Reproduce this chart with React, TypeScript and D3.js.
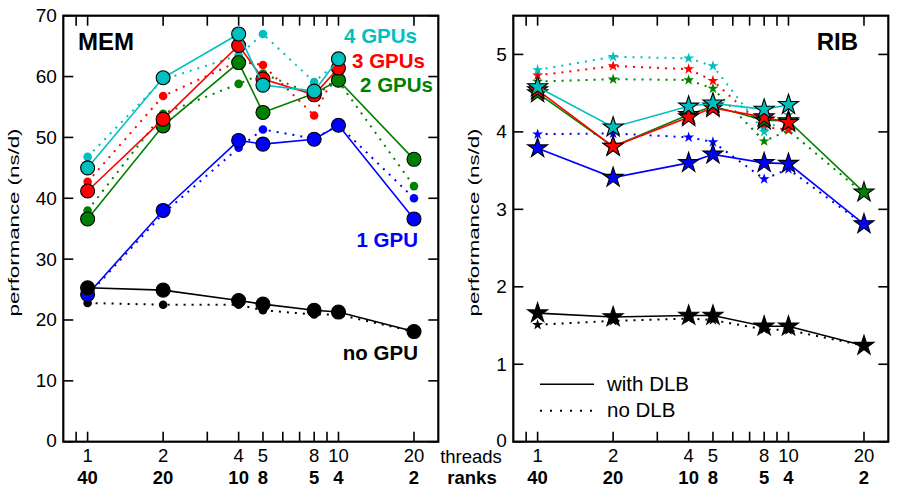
import { useEffect, useRef } from 'react'
import { select, scaleLog, scaleLinear, line, symbol, symbolStar, range } from 'd3'

// x positions: OpenMP threads per rank, and the matching rank counts
const threads = [1, 2, 4, 5, 8, 10, 20]
const ranks = [40, 20, 10, 8, 5, 4, 2]
const minorThreads = [0.9, 3, 6, 7, 9]

// series order: no GPU, 1 GPU, 2 GPUs, 3 GPUs, 4 GPUs
const seriesNames = ['no GPU', '1 GPU', '2 GPUs', '3 GPUs', '4 GPUs']
const seriesColors = ['#000000', '#0000ff', '#008000', '#ff0000', '#00bfbf']

// MEM benchmark (ns/d), with DLB
const memDlbNoGpu = [25.3, 24.9, 23.2, 22.6, 21.6, 21.3, 18.1]
const memDlb1Gpu = [24.2, 38.0, 49.5, 48.9, 49.7, 52.0, 36.6]
const memDlb2Gpu = [36.6, 51.9, 62.3, 54.1, 57.2, 59.4, 46.4]
const memDlb3Gpu = [41.2, 53.0, 65.1, 59.6, 57.0, 61.4]
const memDlb4Gpu = [45.0, 59.8, 67.0, 58.6, 57.6, 62.9]

// MEM benchmark (ns/d), no DLB
const memNoDlbNoGpu = [22.8, 22.5, 22.5, 21.6, 20.9, 20.9, 18.1]
const memNoDlb1Gpu = [24.0, 37.5, 48.3, 51.3, 49.8, 52.0, 40.0]
const memNoDlb2Gpu = [38.0, 53.9, 58.8, 60.5, 57.0, 59.2, 42.0]
const memNoDlb3Gpu = [42.7, 56.8, 62.5, 61.9, 53.6, 61.5]
const memNoDlb4Gpu = [46.8, 59.5, 63.5, 67.0, 59.1, 62.5]

// RIB benchmark (ns/d), with DLB
const ribDlbNoGpu = [1.66, 1.61, 1.63, 1.63, 1.49, 1.49, 1.24]
const ribDlb1Gpu = [3.79, 3.41, 3.6, 3.71, 3.6, 3.59, 2.81]
const ribDlb2Gpu = [4.5, 3.81, 4.22, 4.33, 4.15, 4.14, 3.22]
const ribDlb3Gpu = [4.54, 3.81, 4.19, 4.31, 4.19, 4.12]
const ribDlb4Gpu = [4.58, 4.06, 4.33, 4.37, 4.29, 4.35]

// RIB benchmark (ns/d), no DLB
const ribNoDlbNoGpu = [1.51, 1.56, 1.59, 1.57, 1.45, 1.44, 1.24]
const ribNoDlb1Gpu = [3.97, 3.98, 3.93, 3.87, 3.39, 3.52, 2.8]
const ribNoDlb2Gpu = [4.65, 4.68, 4.67, 4.56, 3.88, 4.02, 3.2]
const ribNoDlb3Gpu = [4.73, 4.85, 4.81, 4.66, 4.06, 4.03]
const ribNoDlb4Gpu = [4.8, 4.97, 4.95, 4.85, 4.0, 4.22]

const memTicks = range(0, 71, 10)
const ribTicks = range(0, 6, 1)

const FONT = '"Liberation Sans", Arial, Helvetica, sans-serif'

interface PanelOpts {
  left: number
  yMax: number
  yTicks: number[]
  dlb: number[][]
  noDlb: number[][]
  marker: 'circle' | 'star'
  title: string
  titleX: number
  titleAnchor: string
}

const App = () => {
  const svgRef = useRef(null)

  useEffect(() => {
    const svg = select(svgRef.current)
    svg.selectAll('*').remove()

    const top = 15.7
    const bottom = 441.7
    const plotW = 375

    const drawPanel = (o: PanelOpts) => {
      const x = scaleLog().domain([0.8, 25]).range([o.left, o.left + plotW])
      const y = scaleLinear().domain([0, o.yMax]).range([bottom, top])
      const g = svg.append('g')

      // ticks (inward on all four sides)
      const allX = threads.concat(minorThreads)
      allX.forEach((t) => {
        g.append('line')
          .attr('x1', x(t)).attr('x2', x(t))
          .attr('y1', bottom).attr('y2', bottom - 10)
          .attr('stroke', '#000').attr('stroke-width', 1.6)
        g.append('line')
          .attr('x1', x(t)).attr('x2', x(t))
          .attr('y1', top).attr('y2', top + 10)
          .attr('stroke', '#000').attr('stroke-width', 1.6)
      })
      o.yTicks.forEach((v) => {
        g.append('line')
          .attr('x1', o.left).attr('x2', o.left + 10)
          .attr('y1', y(v)).attr('y2', y(v))
          .attr('stroke', '#000').attr('stroke-width', 1.6)
        g.append('line')
          .attr('x1', o.left + plotW).attr('x2', o.left + plotW - 10)
          .attr('y1', y(v)).attr('y2', y(v))
          .attr('stroke', '#000').attr('stroke-width', 1.6)
        g.append('text')
          .attr('x', o.left - 6.5)
          .attr('y', y(v) + (v === 0 ? 5 : 6.5))
          .attr('text-anchor', 'end')
          .attr('font-family', FONT)
          .attr('font-size', 19)
          .text(v)
      })

      // tick labels: threads and ranks
      threads.forEach((t, i) => {
        g.append('text')
          .attr('x', x(t)).attr('y', 461.7)
          .attr('text-anchor', 'middle')
          .attr('font-family', FONT).attr('font-size', 18.5)
          .text(t)
        g.append('text')
          .attr('x', x(t)).attr('y', 484)
          .attr('text-anchor', 'middle')
          .attr('font-family', FONT).attr('font-size', 18.5)
          .attr('font-weight', 'bold')
          .text(ranks[i])
      })

      const lineGen = line<number>()
        .x((_, i) => x(threads[i]))
        .y((d) => y(d))

      const drawSeries = (vals: number[], color: string, dotted: boolean) => {
        g.append('path')
          .attr('d', lineGen(vals))
          .attr('fill', 'none')
          .attr('stroke', color)
          .attr('stroke-width', dotted ? 2 : 1.6)
          .attr('stroke-dasharray', dotted ? '2 6' : null)
        vals.forEach((v, i) => {
          const cx = x(threads[i])
          const cy = y(v)
          if (o.marker === 'circle') {
            g.append('circle')
              .attr('cx', cx).attr('cy', cy)
              .attr('r', dotted ? 4.3 : 7)
              .attr('fill', color)
              .attr('stroke', dotted ? 'none' : '#000')
              .attr('stroke-width', 1.1)
          } else {
            const R = dotted ? 5.8 : 10.5
            g.append('path')
              .attr('d', symbol(symbolStar, (R * R) / 0.8908130915292852)())
              .attr('transform', `translate(${cx},${cy})`)
              .attr('fill', color)
              .attr('stroke', dotted ? 'none' : '#000')
              .attr('stroke-width', 1.1)
          }
        })
      }

      const order = [1, 2, 3, 4, 0]
      order.forEach((k) => drawSeries(o.noDlb[k], seriesColors[k], true))
      order.forEach((k) => drawSeries(o.dlb[k], seriesColors[k], false))

      // frame
      g.append('rect')
        .attr('x', o.left).attr('y', top)
        .attr('width', plotW).attr('height', bottom - top)
        .attr('fill', 'none')
        .attr('stroke', '#000').attr('stroke-width', 2.2)

      g.append('text')
        .attr('x', o.titleX).attr('y', 50)
        .attr('text-anchor', o.titleAnchor)
        .attr('font-family', FONT).attr('font-size', 24)
        .attr('font-weight', 'bold')
        .text(o.title)
    }

    drawPanel({
      left: 63.3,
      yMax: 70,
      yTicks: memTicks,
      dlb: [memDlbNoGpu, memDlb1Gpu, memDlb2Gpu, memDlb3Gpu, memDlb4Gpu],
      noDlb: [memNoDlbNoGpu, memNoDlb1Gpu, memNoDlb2Gpu, memNoDlb3Gpu, memNoDlb4Gpu],
      marker: 'circle',
      title: 'MEM',
      titleX: 78,
      titleAnchor: 'start',
    })
    drawPanel({
      left: 513.3,
      yMax: 5.5,
      yTicks: ribTicks,
      dlb: [ribDlbNoGpu, ribDlb1Gpu, ribDlb2Gpu, ribDlb3Gpu, ribDlb4Gpu],
      noDlb: [ribNoDlbNoGpu, ribNoDlb1Gpu, ribNoDlb2Gpu, ribNoDlb3Gpu, ribNoDlb4Gpu],
      marker: 'star',
      title: 'RIB',
      titleX: 858,
      titleAnchor: 'end',
    })

    // GPU count labels in the MEM panel
    const gpuLabelPos = [
      [418, 360],
      [418, 246.7],
      [433, 91.7],
      [425, 67.7],
      [417, 42.7],
    ]
    seriesNames.forEach((name, k) => {
      svg.append('text')
        .attr('x', gpuLabelPos[k][0]).attr('y', gpuLabelPos[k][1])
        .attr('text-anchor', 'end')
        .attr('font-family', FONT).attr('font-size', 20.5)
        .attr('font-weight', 'bold')
        .attr('fill', seriesColors[k])
        .text(name)
    })

    // axis captions between panels
    svg.append('text')
      .attr('x', 471).attr('y', 462.5)
      .attr('text-anchor', 'middle')
      .attr('font-family', FONT).attr('font-size', 18.5)
      .text('threads')
    svg.append('text')
      .attr('x', 472).attr('y', 484)
      .attr('text-anchor', 'middle')
      .attr('font-family', FONT).attr('font-size', 18.5)
      .attr('font-weight', 'bold')
      .text('ranks')

    // y labels, squeezed across and stretched along like the original
    ;[18.5, 478.5].forEach((lx) => {
      svg.append('text')
        .attr('transform', `translate(${lx},222.5) rotate(-90)`)
        .attr('text-anchor', 'middle')
        .attr('font-family', FONT).attr('font-size', 14)
        .attr('textLength', 188)
        .attr('lengthAdjust', 'spacingAndGlyphs')
        .text('performance (ns/d)')
    })

    // DLB legend
    const legend = [
      ['with DLB', 384.3, null],
      ['no DLB', 410.7, '2 8'],
    ]
    legend.forEach(([label, ly, dash]) => {
      svg.append('line')
        .attr('x1', 540).attr('x2', 594)
        .attr('y1', ly as number).attr('y2', ly as number)
        .attr('stroke', '#000')
        .attr('stroke-width', dash ? 2 : 1.6)
        .attr('stroke-dasharray', dash as string | null)
      svg.append('text')
        .attr('x', 607).attr('y', (ly as number) + 6.5)
        .attr('font-family', FONT).attr('font-size', 20.5)
        .text(label as string)
    })
  }, [])

  return (
    <svg
      ref={svgRef}
      width={899}
      height={495}
      style={{ position: 'absolute', left: 0, top: 0, background: '#fff' }}
    />
  )
}

export default App
